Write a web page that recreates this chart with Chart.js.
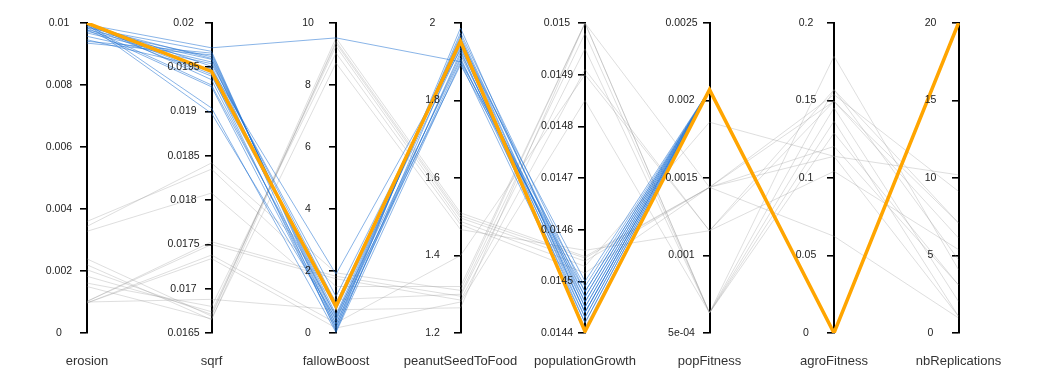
<!DOCTYPE html>
<html>

<head>
  <title>Parallel coordinates</title>
  <script src="https://cdn.jsdelivr.net/npm/chart.js"></script>
  <style>
    body { margin: 0; background: #fff; }
  </style>
</head>

<body>
  <canvas id="pcChart" width="1042" height="378"></canvas>

  <script>
    // axes
    const axisNames = ['erosion', 'sqrf', 'fallowBoost', 'peanutSeedToFood', 'populationGrowth', 'popFitness', 'agroFitness', 'nbReplications'];
    const axisMin = [0, 0.0165, 0, 1.2, 0.0144, 0.0005, 0, 0];
    const axisMax = [0.01, 0.02, 10, 2, 0.015, 0.0025, 0.2, 20];
    const tickValues = [
      [0, 0.002, 0.004, 0.006, 0.008, 0.01],
      [0.0165, 0.017, 0.0175, 0.018, 0.0185, 0.019, 0.0195, 0.02],
      [0, 2, 4, 6, 8, 10],
      [1.2, 1.4, 1.6, 1.8, 2],
      [0.0144, 0.0145, 0.0146, 0.0147, 0.0148, 0.0149, 0.015],
      [0.0005, 0.001, 0.0015, 0.002, 0.0025],
      [0, 0.05, 0.1, 0.15, 0.2],
      [0, 5, 10, 15, 20]
    ];
    const tickLabels = [
      ['0', '0.002', '0.004', '0.006', '0.008', '0.01'],
      ['0.0165', '0.017', '0.0175', '0.018', '0.0185', '0.019', '0.0195', '0.02'],
      ['0', '2', '4', '6', '8', '10'],
      ['1.2', '1.4', '1.6', '1.8', '2'],
      ['0.0144', '0.0145', '0.0146', '0.0147', '0.0148', '0.0149', '0.015'],
      ['5e-04', '0.001', '0.0015', '0.002', '0.0025'],
      ['0', '0.05', '0.1', '0.15', '0.2'],
      ['0', '5', '10', '15', '20']
    ];

    // one entry per line: 14 grey, 18 blue, 1 best (orange)
    const group = [
      'grey', 'grey', 'grey', 'grey', 'grey', 'grey', 'grey', 'grey', 'grey', 'grey', 'grey', 'grey', 'grey', 'grey',
      'blue', 'blue', 'blue', 'blue', 'blue', 'blue', 'blue', 'blue', 'blue', 'blue', 'blue', 'blue', 'blue', 'blue', 'blue', 'blue', 'blue', 'blue',
      'best'
    ];
    const erosion = [
      0.0036, 0.00344, 0.00328, 0.00239, 0.0022, 0.00204, 0.00183, 0.00161, 0.0015, 0.00102, 0.00102, 0.00097, 0.00097, 0.001,
      0.00995, 0.00984, 0.00941, 0.00935, 0.00978, 0.00989, 0.00973, 0.00968, 0.00957, 0.01, 0.00946, 0.00995, 0.01, 0.00984, 0.00978, 0.01, 0.00995, 0.00989,
      0.01
    ];
    const sqrf = [
      0.01835, 0.01842, 0.01808, 0.01669, 0.01665, 0.01671, 0.01674, 0.0168, 0.01666, 0.01753, 0.0175, 0.01738, 0.01734, 0.01688,
      0.01972, 0.01968, 0.01966, 0.01964, 0.01962, 0.0196, 0.01959, 0.01956, 0.01954, 0.01951, 0.01948, 0.01942, 0.01936, 0.0193, 0.01928, 0.01904, 0.01898, 0.0194,
      0.019454
    ];
    const fallowBoost = [
      1.5, 1.94, 1.08, 9.52, 9.41, 9.35, 9.25, 9.03, 8.71, 1.83, 1.75, 0.32, 0.16, 0.75,
      9.52, 0.16, 0.27, 0.38, 0.48, 0.59, 0.05, 0.97, 1.18, 0.75, 1.9, 0.1, 0.3, 0.55, 0.2, 0.02, 0.45, 0.85,
      0.86
    ];
    const peanutSeedToFood = [
      1.32, 1.31, 1.3, 1.51, 1.503, 1.497, 1.488, 1.48, 1.467, 1.295, 1.285, 1.4, 1.28, 1.265,
      1.9, 1.987, 1.975, 1.968, 1.96, 1.955, 1.95, 1.945, 1.94, 1.935, 1.93, 1.925, 1.918, 1.91, 1.905, 1.898, 1.892, 1.962,
      1.953
    ];
    const populationGrowth = [
      0.015, 0.015, 0.01498, 0.014548, 0.014545, 0.014539, 0.014529, 0.014516, 0.01456, 0.01495, 0.01491, 0.0149, 0.01485, 0.015,
      0.01449, 0.01445, 0.01448, 0.01446, 0.01447, 0.01444, 0.01443, 0.0145, 0.01442, 0.01445, 0.01441, 0.01444, 0.01446, 0.01443, 0.01447, 0.01442, 0.01448, 0.01444,
      0.014403
    ];
    const popFitness = [
      0.00063, 0.00063, 0.00063, 0.00144, 0.00144, 0.00144, 0.00186, 0.00144, 0.00116, 0.00063, 0.00116, 0.00116, 0.00063, 0.00144,
      0.00207, 0.00207, 0.00207, 0.00207, 0.00207, 0.00207, 0.00207, 0.00207, 0.00207, 0.00207, 0.00207, 0.00207, 0.00207, 0.00207, 0.00207, 0.00207, 0.00207, 0.00207,
      0.00207
    ];
    const agroFitness = [
      0.1785, 0.157, 0.1452, 0.1538, 0.1495, 0.1204, 0.114, 0.0624, 0.1043, 0.1366, 0.157, 0.1495, 0.129, 0.114,
      0, 0, 0, 0, 0, 0, 0, 0, 0, 0, 0, 0, 0, 0, 0, 0, 0, 0,
      0
    ];
    const nbReplications = [
      4.09, 7.1, 2.04, 9.14, 6.13, 3.1, 10.2, 0.97, 5.38, 1.08, 4.73, 7.1, 3.1, 1.08,
      20, 20, 20, 20, 20, 20, 20, 20, 20, 20, 20, 20, 20, 20, 20, 20, 20, 20,
      20
    ];

    const columns = [erosion, sqrf, fallowBoost, peanutSeedToFood, populationGrowth, popFitness, agroFitness, nbReplications];

    const styles = {
      grey: { color: 'rgba(150,150,150,0.4)', width: 0.8, order: 2 },
      blue: { color: 'rgba(35,115,210,0.6)', width: 0.9, order: 1 },
      best: { color: '#FFA500', width: 3.5, order: 0 }
    };

    // each line is normalised through the range of its axis
    const datasets = group.map((g, i) => ({
      data: columns.map((col, a) => (col[i] - axisMin[a]) / (axisMax[a] - axisMin[a])),
      borderColor: styles[g].color,
      borderWidth: styles[g].width,
      order: styles[g].order,
      yAxisID: 'yn',
      pointRadius: 0,
      tension: 0,
      fill: false
    }));

    const scales = {
      x: {
        type: 'category',
        offset: false,
        grid: { display: false, drawTicks: false },
        border: { display: false },
        ticks: {
          font: { family: 'Liberation Sans', size: 13 },
          color: '#333',
          padding: 21,
          maxRotation: 0,
          autoSkip: false
        },
        afterFit: (scale) => {
          scale.height = 37;
        }
      },
      yn: { type: 'linear', min: 0, max: 1, display: false }
    };
    axisNames.forEach((name, a) => {
      scales['ax' + a] = {
        type: 'linear',
        axis: 'y',
        position: { x: a },
        min: axisMin[a],
        max: axisMax[a],
        afterBuildTicks: (scale) => {
          scale.ticks = tickValues[a].map(v => ({ value: v }));
        },
        grid: { display: true, drawOnChartArea: false, drawTicks: true, tickLength: 6, color: '#000', lineWidth: 1.6 },
        border: { display: true, color: '#000', width: 2 },
        ticks: { display: false }
      };
    });

    // tick labels centred left of each axis
    const tickLabelPlugin = {
      id: 'tickLabels',
      afterDraw(chart) {
        const ctx = chart.ctx;
        ctx.save();
        ctx.font = '10.5px "Liberation Sans"';
        ctx.fillStyle = '#222';
        ctx.textAlign = 'center';
        ctx.textBaseline = 'middle';
        axisNames.forEach((name, a) => {
          const scale = chart.scales['ax' + a];
          const x = chart.scales.x.getPixelForValue(a) - 28;
          tickValues[a].forEach((v, k) => {
            ctx.fillText(tickLabels[a][k], x, scale.getPixelForValue(v));
          });
        });
        ctx.restore();
      }
    };

    const ctx = document.getElementById('pcChart').getContext('2d');
    const pcChart = new Chart(ctx, {
      type: 'line',
      data: { labels: axisNames, datasets: datasets },
      options: {
        responsive: false,
        animation: false,
        layout: { padding: { top: 23, bottom: 8, left: 87, right: 83.5 } },
        plugins: { legend: { display: false }, tooltip: { enabled: false } },
        scales: scales
      },
      plugins: [tickLabelPlugin]
    });
  </script>
</body>

</html>
